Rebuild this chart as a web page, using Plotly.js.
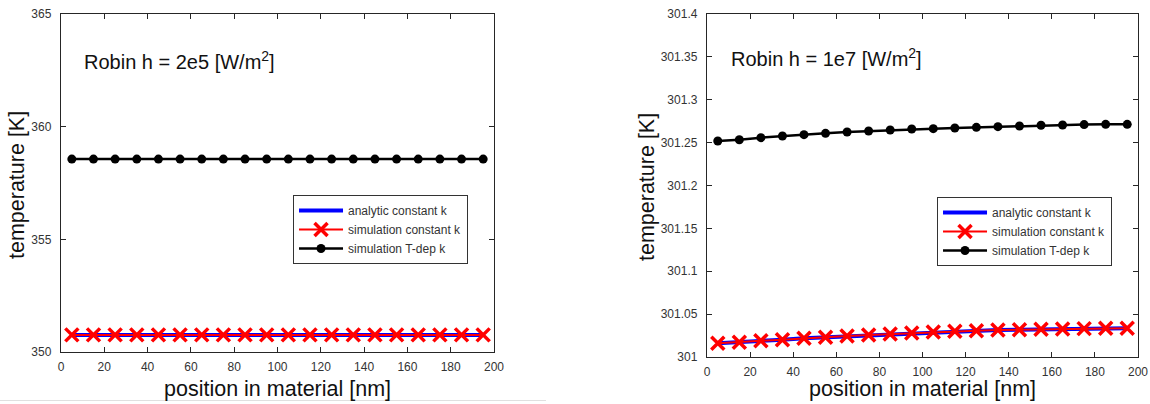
<!DOCTYPE html>
<html>
<head>
<meta charset="utf-8">
<script src="https://cdn.plot.ly/plotly-3.0.1.min.js"></script>
<style>
  html, body { margin: 0; padding: 0; background: #ffffff; }
  #chart { width: 1150px; height: 404px; }
</style>
</head>
<body>
<div id="chart"></div>
<script>
// Sample positions along the material [nm]
const positions = [5, 15, 25, 35, 45, 55, 65, 75, 85, 95, 105, 115, 125, 135, 145, 155, 165, 175, 185, 195];

// Robin h = 2e5 W/m^2
const analyticConstK_h2e5 = [350.76, 350.76, 350.76, 350.76, 350.76, 350.76, 350.76, 350.76, 350.76, 350.76,
                             350.76, 350.76, 350.76, 350.76, 350.76, 350.76, 350.76, 350.76, 350.76, 350.76];
const simConstK_h2e5 =      [350.76, 350.76, 350.76, 350.76, 350.76, 350.76, 350.76, 350.76, 350.76, 350.76,
                             350.76, 350.76, 350.76, 350.76, 350.76, 350.76, 350.76, 350.76, 350.76, 350.76];
const simTdepK_h2e5 =       [358.56, 358.56, 358.56, 358.56, 358.56, 358.56, 358.56, 358.56, 358.56, 358.56,
                             358.56, 358.56, 358.56, 358.56, 358.56, 358.56, 358.56, 358.56, 358.56, 358.56];

// Robin h = 1e7 W/m^2
const analyticConstK_h1e7 = [301.0160, 301.0171, 301.0190, 301.0202, 301.0218, 301.0229, 301.0245, 301.0257, 301.0268, 301.0280,
                             301.0292, 301.0299, 301.0307, 301.0315, 301.0319, 301.0323, 301.0327, 301.0331, 301.0334, 301.0334];
const simConstK_h1e7 =      [301.0160, 301.0171, 301.0190, 301.0202, 301.0218, 301.0229, 301.0245, 301.0257, 301.0268, 301.0280,
                             301.0292, 301.0299, 301.0307, 301.0315, 301.0319, 301.0323, 301.0327, 301.0331, 301.0334, 301.0334];
const simTdepK_h1e7 =       [301.2519, 301.2534, 301.2558, 301.2577, 301.2593, 301.2608, 301.2624, 301.2635, 301.2647, 301.2659,
                             301.2663, 301.2671, 301.2678, 301.2686, 301.2694, 301.2702, 301.2706, 301.2710, 301.2713, 301.2713];

// Tick labels
const xTicks = [0, 20, 40, 60, 80, 100, 120, 140, 160, 180, 200];
const yTicksLeft = [350, 355, 360, 365];
const yTicksRight = [301, 301.05, 301.1, 301.15, 301.2, 301.25, 301.3, 301.35, 301.4];
const yTickTextRight = ['301', '301.05', '301.1', '301.15', '301.2', '301.25', '301.3', '301.35', '301.4'];

const seriesNames = ['analytic constant k', 'simulation constant k', 'simulation T-dep k'];
const panelLabels = ['Robin h = 2e5 [W/m<sup>2</sup>]', 'Robin h = 1e7 [W/m<sup>2</sup>]'];

const FONT = 'Liberation Sans, Arial, Helvetica, sans-serif';

function panelTraces(xa, ya, legendId, analytic, simConst, simTdep) {
  return [
    {
      x: positions, y: analytic, xaxis: xa, yaxis: ya, legend: legendId,
      name: seriesNames[0], mode: 'lines',
      line: { color: '#0000ff', width: 4 }
    },
    {
      x: positions, y: simConst, xaxis: xa, yaxis: ya, legend: legendId,
      name: seriesNames[1], mode: 'lines+markers',
      line: { color: '#ff0000', width: 2 },
      marker: { symbol: 'x-thin', size: 13, color: '#ff0000', line: { color: '#ff0000', width: 3.5 } }
    },
    {
      x: positions, y: simTdep, xaxis: xa, yaxis: ya, legend: legendId,
      name: seriesNames[2], mode: 'lines+markers',
      line: { color: '#000000', width: 2.5 },
      marker: { symbol: 'circle', size: 9, color: '#000000' }
    }
  ];
}

const data = [
  ...panelTraces('x', 'y', 'legend', analyticConstK_h2e5, simConstK_h2e5, simTdepK_h2e5),
  ...panelTraces('x2', 'y2', 'legend2', analyticConstK_h1e7, simConstK_h1e7, simTdepK_h1e7)
];

const axisCommon = {
  showgrid: false, zeroline: false,
  showline: true, linecolor: '#262626', linewidth: 1.2, mirror: 'ticks',
  ticks: 'inside', ticklen: 5, tickwidth: 1, tickcolor: '#262626',
  tickfont: { family: FONT, size: 12, color: '#333333' },
  fixedrange: true
};

const legendCommon = {
  xanchor: 'left', yanchor: 'top',
  bgcolor: '#ffffff', bordercolor: '#333333', borderwidth: 1,
  font: { family: FONT, size: 12, color: '#333333' },
  itemwidth: 44,
  tracegroupgap: 0
};

const titleFont = { family: FONT, size: 21.5, color: '#111111' };
const labelFont = { family: FONT, size: 20, color: '#111111' };

const layout = {
  width: 1150, height: 404,
  margin: { l: 0, r: 0, t: 0, b: 0 },
  paper_bgcolor: '#ffffff', plot_bgcolor: '#ffffff',
  font: { family: FONT },
  showlegend: true,
  xaxis: Object.assign({}, axisCommon, {
    domain: [0.05304, 0.42957], range: [0, 200], tickvals: xTicks, anchor: 'y', ticklabelstandoff: 3
  }),
  yaxis: Object.assign({}, axisCommon, {
    domain: [0.12871, 0.96535], range: [350, 365], tickvals: yTicksLeft, anchor: 'x', ticklabelstandoff: 6
  }),
  xaxis2: Object.assign({}, axisCommon, {
    domain: [0.61478, 0.98957], range: [0, 200], tickvals: xTicks, anchor: 'y2', ticklabelstandoff: 3
  }),
  yaxis2: Object.assign({}, axisCommon, {
    domain: [0.11634, 0.96535], range: [301, 301.4], tickvals: yTicksRight, ticktext: yTickTextRight,
    anchor: 'x2', ticklabelstandoff: 6
  }),
  legend: Object.assign({}, legendCommon, { x: 0.2548, y: 0.5173 }),
  legend2: Object.assign({}, legendCommon, { x: 0.8148, y: 0.5124 }),
  annotations: [
    { text: panelLabels[0], xref: 'paper', yref: 'paper', x: 0.0715, y: 1 - 60 / 404,
      xanchor: 'left', yanchor: 'middle', showarrow: false, font: labelFont },
    { text: panelLabels[1], xref: 'paper', yref: 'paper', x: 0.6340, y: 1 - 57 / 404,
      xanchor: 'left', yanchor: 'middle', showarrow: false, font: labelFont },
    { text: 'position in material [nm]', xref: 'x', yref: 'paper', x: 100, y: 1 - 389 / 404,
      xanchor: 'center', yanchor: 'middle', showarrow: false, font: titleFont },
    { text: 'position in material [nm]', xref: 'x2', yref: 'paper', x: 100, y: 1 - 389 / 404,
      xanchor: 'center', yanchor: 'middle', showarrow: false, font: titleFont },
    { text: 'temperature [K]', xref: 'paper', yref: 'paper', x: 17 / 1150, y: 1 - 185 / 404,
      xanchor: 'center', yanchor: 'middle', textangle: -90, showarrow: false, font: titleFont },
    { text: 'temperature [K]', xref: 'paper', yref: 'paper', x: 647 / 1150, y: 1 - 187 / 404,
      xanchor: 'center', yanchor: 'middle', textangle: -90, showarrow: false, font: titleFont }
  ],
  shapes: [
    { type: 'line', xref: 'paper', yref: 'paper', x0: 0, x1: 546 / 1150, y0: 1 - 400.5 / 404, y1: 1 - 400.5 / 404,
      line: { color: '#e0e0e0', width: 1 } }
  ]
};

Plotly.newPlot('chart', data, layout, { staticPlot: true, displayModeBar: false });
</script>
</body>
</html>
